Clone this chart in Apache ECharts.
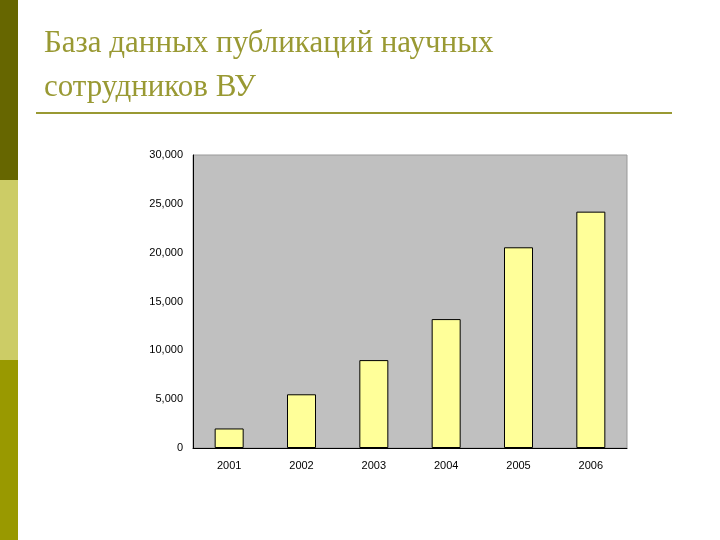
<!DOCTYPE html>
<html><head><meta charset="utf-8">
<script src="https://cdn.jsdelivr.net/npm/echarts@6/dist/echarts.min.js"></script>
<style>html,body{margin:0;padding:0;background:#fff}#c{width:720px;height:540px}</style>
</head><body><div id="c"></div>
<script>
const categories = ['2001','2002','2003','2004','2005','2006'];
const values = [2000, 5500, 9000, 13200, 20550, 24200];
const titleLines = ['База данных публикаций научных', 'сотрудников ВУ'];

const chart = echarts.init(document.getElementById('c'));
chart.setOption({
  animation: false,
  backgroundColor: '#fff',
  graphic: [
    {type:'rect', shape:{x:0,y:0,width:18,height:180}, style:{fill:'#666600'}},
    {type:'rect', shape:{x:0,y:180,width:18,height:180}, style:{fill:'#CCCC66'}},
    {type:'rect', shape:{x:0,y:360,width:18,height:180}, style:{fill:'#999900'}},
    {type:'text', left:44, top:28, style:{text:titleLines[0], font:'31px "Liberation Serif"', fill:'#999933'}},
    {type:'text', left:44, top:72, style:{text:titleLines[1], font:'31px "Liberation Serif"', fill:'#999933'}},
    {type:'rect', shape:{x:36,y:112,width:636,height:2}, style:{fill:'#999933'}}
  ],
  grid: {left:193, top:155, width:434, height:293, show:true, backgroundColor:'#C0C0C0', borderColor:'#999', borderWidth:1},
  xAxis: {
    type:'category', data:categories,
    axisLine:{lineStyle:{color:'#000'}}, axisTick:{show:false},
    axisLabel:{color:'#000', fontFamily:'Liberation Sans', fontSize:11, margin:12}
  },
  yAxis: {
    type:'value', min:0, max:30000, interval:5000,
    axisLine:{show:true, lineStyle:{color:'#000'}}, axisTick:{show:false},
    splitLine:{show:false},
    axisLabel:{color:'#000', fontFamily:'Liberation Sans', fontSize:11, margin:10}
  },
  series: [{
    type:'bar', data:values, barWidth:29,
    itemStyle:{color:'#FFFF99', borderColor:'#000', borderWidth:1}
  }]
});
</script></body></html>
